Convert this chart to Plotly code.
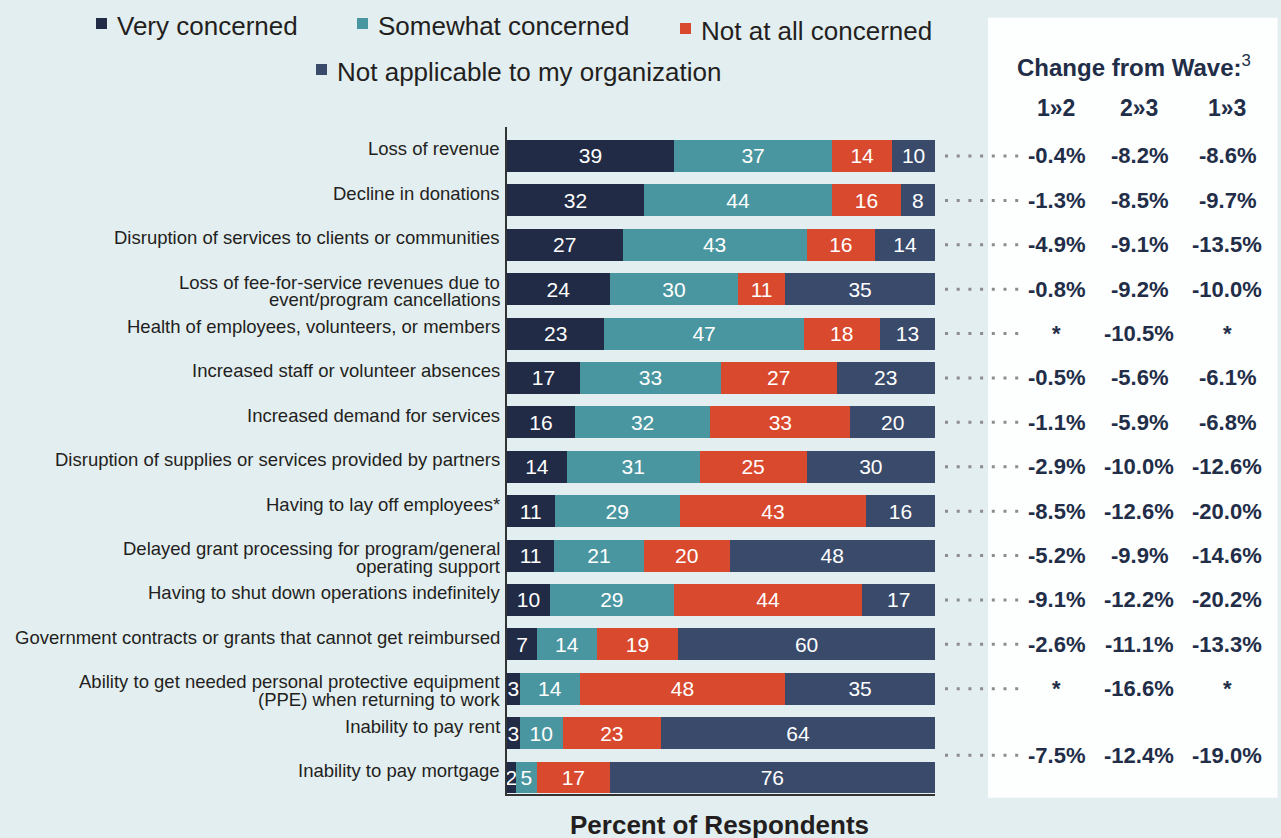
import plotly.graph_objects as go

#====================================================
# DATA
#====================================================

categories = [
    "Loss of revenue",
    "Decline in donations",
    "Disruption of services to clients or communities",
    "Loss of fee-for-service revenues due to<br>event/program cancellations",
    "Health of employees, volunteers, or members",
    "Increased staff or volunteer absences",
    "Increased demand for services",
    "Disruption of supplies or services provided by partners",
    "Having to lay off employees*",
    "Delayed grant processing for program/general<br>operating support",
    "Having to shut down operations indefinitely",
    "Government contracts or grants that cannot get reimbursed",
    "Ability to get needed personal protective equipment<br>(PPE) when returning to work",
    "Inability to pay rent",
    "Inability to pay mortgage",
]

very = [39, 32, 27, 24, 23, 17, 16, 14, 11, 11, 10, 7, 3, 3, 2]
somewhat = [37, 44, 43, 30, 47, 33, 32, 31, 29, 21, 29, 14, 14, 10, 5]
not_at_all = [14, 16, 16, 11, 18, 27, 33, 25, 43, 20, 44, 19, 48, 23, 17]
not_applicable = [10, 8, 14, 35, 13, 23, 20, 30, 16, 48, 17, 60, 35, 64, 76]

series_names = [
    "Very concerned",
    "Somewhat concerned",
    "Not at all concerned",
    "Not applicable to my organization",
]

# change rows: one per category, rent + mortgage share the last row
change_rows = [[c] for c in categories[:13]] + [categories[13:]]
change_heads = ["1»2", "2»3", "1»3"]
chg_12 = [-0.4, -1.3, -4.9, -0.8, None, -0.5, -1.1, -2.9, -8.5, -5.2, -9.1, -2.6, None, -7.5]
chg_23 = [-8.2, -8.5, -9.1, -9.2, -10.5, -5.6, -5.9, -10.0, -12.6, -9.9, -12.2, -11.1, -16.6, -12.4]
chg_13 = [-8.6, -9.7, -13.5, -10.0, None, -6.1, -6.8, -12.6, -20.0, -14.6, -20.2, -13.3, None, -19.0]

#====================================================
# STYLE
#====================================================

W, H = 1281, 838
FONT = "Liberation Sans, Arial, sans-serif"
BG = "#e3eef0"
TXT = "#231f20"
NAVY = "#222d48"
colors = ["#222b45", "#4a96a0", "#d9492e", "#394a6b"]


def px(x):
    return x / W


def py(y):
    return 1 - y / H


#====================================================
# BARS
#====================================================

fig = go.Figure()

ypos = list(range(len(categories)))

for name, vals, col in zip(series_names,
                           [very, somewhat, not_at_all, not_applicable],
                           colors):
    fig.add_trace(go.Bar(
        y=ypos,
        x=vals,
        orientation="h",
        name=name,
        marker=dict(color=col, line=dict(width=0)),
        width=0.72,
        text=vals,
        texttemplate="%{text}",
        textposition="inside",
        insidetextanchor="middle",
        constraintext="none",
        textfont=dict(color="white", size=21, family=FONT),
        hoverinfo="skip",
        showlegend=False,
    ))

annotations = []
shapes = []

# category labels
for i, lab in enumerate(categories):
    lines = lab.split("<br>")
    n = len(lines)
    base = 7 if n == 1 else -2
    for j, line in enumerate(lines):
        annotations.append(dict(
            x=px(502), xref="paper", xanchor="right",
            y=i, yref="y", yanchor="middle",
            yshift=base - (j - (n - 1) / 2) * 17.5,
            text=line, showarrow=False,
            font=dict(size=18.5, color=TXT, family=FONT),
        ))

#====================================================
# LEGEND (custom)
#====================================================

legend_pos = [(96, 18), (357, 18), (680, 23), (316, 64)]
for name, col, (lx, ly) in zip(series_names, colors, legend_pos):
    shapes.append(dict(
        type="rect", xref="paper", yref="paper",
        x0=px(lx), x1=px(lx + 11), y0=py(ly + 11), y1=py(ly),
        fillcolor=col, line=dict(width=0),
    ))
    annotations.append(dict(
        x=px(lx + 19), xref="paper", xanchor="left",
        y=py(ly + 8), yref="paper", yanchor="middle",
        text=name, showarrow=False,
        font=dict(size=26, color=TXT, family=FONT),
    ))

#====================================================
# RIGHT PANEL
#====================================================

shapes.append(dict(
    type="rect", xref="paper", yref="paper", layer="below",
    x0=px(988), x1=px(1277.6), y0=py(797.7), y1=py(17.7),
    fillcolor="#fdfefe", line=dict(width=0),
))

annotations.append(dict(
    x=px(1134), xref="paper", xanchor="center",
    y=py(66), yref="paper", yanchor="middle",
    text="<b>Change from Wave:</b><sup>3</sup>", showarrow=False,
    font=dict(size=24, color=NAVY, family=FONT),
))

col_x = [1056, 1139, 1227]
for head, cx in zip(change_heads, col_x):
    annotations.append(dict(
        x=px(cx), xref="paper", xanchor="center",
        y=py(108), yref="paper", yanchor="middle",
        text="<b>" + head + "</b>", showarrow=False,
        font=dict(size=23, color=NAVY, family=FONT),
    ))

for k, row in enumerate(change_rows):
    idx = [categories.index(c) for c in row]
    yy = sum(idx) / len(idx)

    shapes.append(dict(
        type="line", xref="paper", yref="y",
        x0=px(945), x1=px(1020), y0=yy, y1=yy,
        line=dict(color="#8c8c8c", width=3, dash="3px,8.7px"),
    ))

    for vals, cx in zip([chg_12, chg_23, chg_13], col_x):
        v = vals[k]
        txt = "*" if v is None else f"{v:.1f}%"
        annotations.append(dict(
            x=px(cx), xref="paper", xanchor="center",
            y=yy, yref="y", yanchor="middle",
            text="<b>" + txt + "</b>", showarrow=False,
            font=dict(size=22, color=NAVY, family=FONT),
        ))

# axis title
annotations.append(dict(
    x=px(719), xref="paper", xanchor="center",
    y=py(825), yref="paper", yanchor="middle",
    text="<b>Percent of Respondents</b>", showarrow=False,
    font=dict(size=26, color=TXT, family=FONT),
))

#====================================================
# LAYOUT
#====================================================

fig.update_layout(
    width=W,
    height=H,
    barmode="stack",
    barnorm="percent",
    paper_bgcolor=BG,
    plot_bgcolor="rgba(0,0,0,0)",
    margin=dict(l=0, r=0, t=0, b=0),
    font=dict(family=FONT, color=TXT),
    xaxis=dict(
        domain=[px(507), px(935)],
        range=[0, 100],
        showgrid=False,
        zeroline=False,
        showticklabels=False,
        ticks="",
        showline=True,
        linecolor="#333333",
        linewidth=2,
        fixedrange=True,
    ),
    yaxis=dict(
        domain=[py(794), py(127)],
        range=[14.372, -0.653],
        showgrid=False,
        zeroline=False,
        showticklabels=False,
        ticks="",
        showline=True,
        linecolor="#333333",
        linewidth=2,
        fixedrange=True,
    ),
    shapes=shapes,
    annotations=annotations,
)

fig.write_html(
    "out.html",
    config={"displayModeBar": False},
    post_script="document.body.style.margin='0';",
)
